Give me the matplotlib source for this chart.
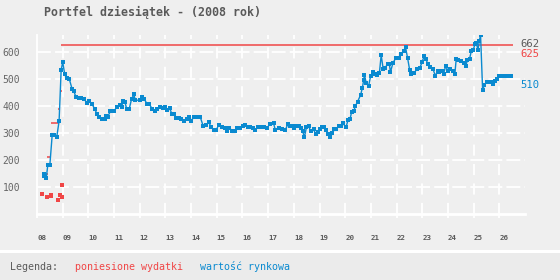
import matplotlib.pyplot as plt
import matplotlib.patches as patches

plt.rcParams['font.family'] = ['DejaVu Sans Mono']
plt.rcParams['lines.scale_dashes'] = False

BG = '#efefef'
BLUE = '#0a8ad0'
RED = '#f04646'
GRAY = '#5a5a5a'

# market value of the portfolio (x = week of 2008)
week = [8.26, 8.29, 8.36, 8.42, 8.50, 8.59, 8.68, 8.77, 8.86, 8.94, 9.00, 9.08, 9.16, 9.26,
        9.37, 9.43, 9.51, 9.63, 9.73, 9.84, 9.94, 10.02, 10.15, 10.25, 10.34, 10.43, 10.54,
        10.63, 10.70, 10.75, 10.86, 10.99, 11.12, 11.22, 11.29, 11.35, 11.43, 11.49, 11.59,
        11.68, 11.77, 11.83, 12.00, 12.09, 12.18, 12.29, 12.38, 12.48, 12.58, 12.68, 12.78,
        12.90, 12.99, 13.07, 13.16, 13.25, 13.34, 13.43, 13.52, 13.62, 13.74, 13.84, 13.92,
        14.00, 14.10, 14.23, 14.36, 14.47, 14.57, 14.68, 14.78, 14.88, 14.98, 15.07, 15.21,
        15.31, 15.41, 15.49, 15.60, 15.70, 15.80, 15.92, 16.02, 16.11, 16.20, 16.31, 16.41,
        16.50, 16.61, 16.70, 16.82, 16.96, 17.06, 17.21, 17.28, 17.41, 17.55, 17.67, 17.76,
        17.86, 17.94, 18.01, 18.10, 18.19, 18.28, 18.34, 18.41, 18.49, 18.58, 18.65, 18.77,
        18.85, 18.94, 19.03, 19.11, 19.19, 19.25, 19.34, 19.42, 19.50, 19.58, 19.65, 19.74,
        19.84, 19.91, 20.03, 20.11, 20.19, 20.25, 20.33, 20.40, 20.48, 20.60, 20.67, 20.72,
        20.75, 20.82, 20.91, 20.99, 21.08, 21.16, 21.25, 21.33, 21.40, 21.48, 21.56, 21.65,
        21.72, 21.76, 21.86, 21.98, 22.08, 22.17, 22.27, 22.35, 22.43, 22.51, 22.58, 22.69,
        22.78, 22.90, 22.99, 23.08, 23.14, 23.22, 23.32, 23.42, 23.51, 23.60, 23.67, 23.77,
        23.83, 23.91, 24.00, 24.09, 24.18, 24.27, 24.32, 24.41, 24.52, 24.61, 24.69, 24.76,
        24.84, 24.91, 24.98, 25.05, 25.11, 25.17, 25.22, 25.27, 25.35, 25.42, 25.52, 25.61,
        25.69, 25.75, 25.84, 25.92, 26.00, 26.10, 26.23, 26.36, 26.46]
value = [148, 142, 133, 181, 181, 291, 291, 286, 344, 533, 563, 517, 502, 499,
         462, 456, 435, 429, 431, 425, 412, 418, 406, 388, 370, 360, 352,
         352, 363, 360, 381, 381, 397, 402, 395, 418, 413, 389, 389,
         425, 443, 421, 422, 432, 425, 407, 407, 389, 381, 389, 397,
         393, 395, 385, 393, 371, 371, 354, 354, 352, 345, 352, 360,
         345, 358, 358, 358, 326, 328, 340, 323, 311, 311, 330, 323,
         317, 307, 320, 307, 307, 320, 320, 326, 328, 323, 323, 320,
         311, 323, 323, 323, 320, 332, 336, 311, 320, 314, 311, 332,
         326, 327, 317, 327, 326, 317, 308, 284, 321, 325, 308, 314,
         295, 305, 314, 321, 321, 311, 295, 284, 299, 314, 314, 326,
         326, 336, 321, 348, 353, 378, 381, 400, 416, 441, 468, 496,
         515, 484, 474, 511, 527, 519, 514, 521, 589, 536, 542, 556,
         556, 525, 560, 579, 579, 593, 604, 617, 577, 533, 517, 521,
         537, 539, 562, 586, 573, 556, 546, 537, 511, 531, 527, 531,
         519, 548, 531, 536, 531, 519, 573, 570, 568, 560, 548, 570,
         574, 604, 607, 628, 632, 607, 642, 662, 459, 478, 490, 490,
         490, 480, 493, 500, 510, 510, 510, 510, 510]

# single purchases
cost_week = [8.21, 8.38, 8.54, 8.54, 8.81, 8.89, 8.96, 8.96]
cost_value = [75, 62, 67, 70, 51, 69, 106, 62]

# cumulative expenses
cum_from = [8.25, 8.37, 8.53, 8.80, 8.88, 8.95]
cum_to = [8.41, 8.56, 8.80, 8.88, 8.99, 26.54]
cum_value = [147, 210, 336, 388, 454, 625]

week_ticks = list(range(8, 27))
week_labels = ['%02d' % w for w in week_ticks]
y_ticks = [100, 200, 300, 400, 500, 600]

fig = plt.figure(figsize=(5.6, 2.8), dpi=100, facecolor=BG)
ax = fig.add_axes([37 / 560, 1 - 214 / 280, 488 / 560, 179 / 280])
ax.set_facecolor(BG)
ax.set_xlim(8, 27)
ax.set_ylim(0, 663)

# grid
for y in y_ticks:
    ax.axhline(y, color='white', lw=1.3, dashes=(10, 3), zorder=1)
for w in week_ticks[1:]:
    ax.axvline(w, color='white', lw=1.3, dashes=(8, 6), zorder=1)

for s in ['top', 'right']:
    ax.spines[s].set_visible(False)
ax.spines['left'].set_color('white')
ax.spines['left'].set_linewidth(1.3)
ax.spines['bottom'].set_color('white')
ax.spines['bottom'].set_linewidth(2)

ax.set_xticks(week_ticks)
ax.set_xticklabels(week_labels, ha='left', fontsize=5.4, fontweight='bold', color=GRAY)
ax.tick_params(axis='x', length=3, width=1.3, color='white', pad=12)
ax.set_yticks(y_ticks)
ax.set_yticklabels([str(v) for v in y_ticks], fontsize=7, color='#666666')
ax.tick_params(axis='y', length=0, pad=12)

# expenses
ax.hlines(cum_value, cum_from, cum_to, color=RED, lw=1.1, zorder=2)
ax.plot(cost_week, cost_value, 's', color=RED, ms=3, mew=0, zorder=3)

# market value
ax.plot(week, value, '-', color=BLUE, lw=1.0, marker='s', ms=2.9, mew=0, zorder=4)

# end labels
lbl = dict(xytext=(-2, -3), textcoords='offset points', va='top', ha='left',
           fontsize=7.6, annotation_clip=False)
ax.annotate(str(max(value)), xy=(26.93, max(value)), color=GRAY, **lbl)
ax.annotate(str(cum_value[-1]), xy=(26.93, cum_value[-1]), color=RED, **lbl)
ax.annotate(str(value[-1]), xy=(26.93, value[-1]), color=BLUE, **lbl)

fig.text(153 / 560, 1 - 12 / 280, 'Portfel dziesiątek - (2008 rok)', ha='center', va='center',
         fontsize=8.4, fontweight='bold', color=GRAY)

# legend strip
fig.patches.append(patches.Rectangle((0, 0), 1, 1 - 253 / 280, transform=fig.transFigure,
                                     facecolor='#ebebeb', edgecolor='none', zorder=0))
fig.patches.append(patches.Rectangle((0, 1 - 253 / 280), 1, 3 / 280, transform=fig.transFigure,
                                     facecolor='white', edgecolor='none', zorder=0))
ly = 1 - 267 / 280
fig.text(10 / 560, ly, 'Legenda:', va='center', fontsize=7.2, color=GRAY)
fig.text(75 / 560, ly, 'poniesione wydatki', va='center', fontsize=7.2, color=RED)
fig.text(200 / 560, ly, 'wartość rynkowa', va='center', fontsize=7.2, color=BLUE)

fig.savefig('out.png', dpi=100, facecolor=BG)
